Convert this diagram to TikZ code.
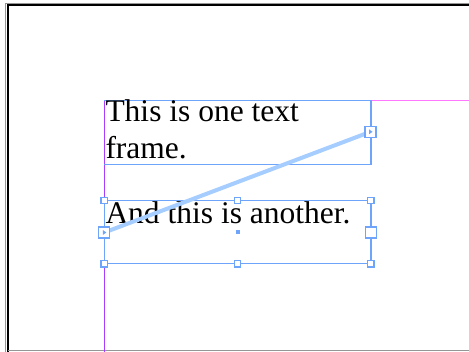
\documentclass[tikz,border=0pt]{standalone}
\usepackage{fontspec}
\setmainfont{Liberation Serif}
\definecolor{frameblue}{RGB}{110,165,250}
\definecolor{threadblue}{RGB}{165,205,255}
\definecolor{guidemag}{RGB}{255,120,255}
\definecolor{guidepur}{RGB}{170,60,255}
\definecolor{pagegray}{RGB}{150,150,150}
\begin{document}
\begin{tikzpicture}[x=1pt,y=-1pt,
  frameline/.style={draw=frameblue,line width=1.4pt},
  handle/.style={draw=frameblue,fill=white,line width=1.3pt,minimum size=6.5pt,inner sep=0pt,outer sep=0pt,rectangle},
  bighandle/.style={draw=frameblue,fill=white,line width=1.3pt,minimum size=11pt,inner sep=0pt,outer sep=0pt,rectangle},
  portbox/.style={draw=frameblue,fill=white,line width=1.3pt,minimum size=11pt,inner sep=0pt,outer sep=0pt,rectangle},
  txt/.style={anchor=base west,inner sep=0pt,font=\fontsize{31.5}{37}\selectfont},
  thread/.style={draw=threadblue,line width=4pt}]
\useasboundingbox (0,0) rectangle (469,352);
\fill[white] (0,0) rectangle (469,352);
% page edges
\draw[pagegray,line width=1pt] (5.5,352) -- (5.5,3.3) -- (469,3.3);
\draw[black,line width=2pt] (7.8,352) -- (7.8,4.9) -- (469,4.9);
\draw[pagegray,line width=1pt] (8,350.8) -- (469,350.8);
% guides
\draw[guidemag,line width=1.5pt] (104.3,100.5) -- (469,100.5);
\draw[guidepur,line width=1.5pt] (104.3,100.5) -- (104.3,352);
% frame 1
\draw[frameline] (104.3,100.5) -- (370.8,100.5) -- (370.8,164.5) -- (104.3,164.5);
\node[txt] (t1a) at (105.3,122) {This is one text};
\node[txt] (t1b) at (105.3,158.4) {frame.};
% frame 2
\draw[frameline] (104.3,200.5) rectangle (370.8,263.8);
\node[txt] (t2) at (105.3,223.5) {And this is another.};
% thread
\coordinate (inc) at (104.3,232.5);
\coordinate (outc) at (370.5,131.8);
\draw[thread] (inc) -- (outc);
% ports
\node[portbox] (outport) at (outc) {};
\fill[frameblue] ([xshift=-1.5pt,yshift=-2.5pt]outport.center) -- ([xshift=2pt]outport.center) -- ([xshift=-1.5pt,yshift=2.5pt]outport.center) -- cycle;
\node[portbox] (inport) at (inc) {};
\fill[frameblue] ([xshift=-1.5pt,yshift=-2.5pt]inport.center) -- ([xshift=2pt]inport.center) -- ([xshift=-1.5pt,yshift=2.5pt]inport.center) -- cycle;
% handles
\node[handle] (htl) at (104.3,200.5) {};
\node[handle] (htm) at (237.5,200.5) {};
\node[handle] (htr) at (370.8,200.5) {};
\node[bighandle] (hmr) at (370.8,232.5) {};
\node[handle] (hbl) at (104.3,263.8) {};
\node[handle] (hbm) at (237.5,263.8) {};
\node[handle] (hbr) at (370.8,263.8) {};
\node[fill=frameblue,minimum size=4pt,inner sep=0pt] (hc) at (237.5,232.5) {};
\end{tikzpicture}
\end{document}
